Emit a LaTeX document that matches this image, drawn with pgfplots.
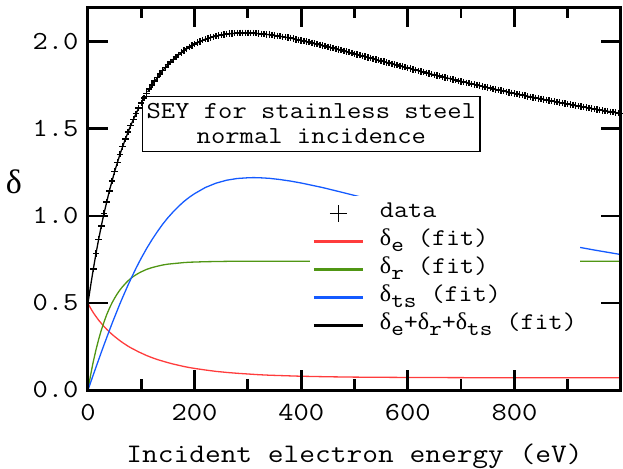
\documentclass[border=0pt]{standalone}
\usepackage{fontspec}
\setmainfont{Latin Modern Mono}[FakeStretch=1.14]
\newfontfamily\dfont{Liberation Serif}
\usepackage{pgfplots}
\pgfplotsset{compat=1.18}
\usepackage{pgfplotstable}
\definecolor{cred}{RGB}{255,60,60}
\definecolor{cgreen}{RGB}{80,150,20}
\definecolor{cblue}{RGB}{20,90,255}
\newcommand{\dd}{{\dfont δ}}
\newcommand{\sub}[1]{\raisebox{-3pt}{\fontsize{10.5}{12}\selectfont #1}}

\pgfplotstableread{
E S
10 0.695
15 0.784
20 0.866
25 0.943
30 1.014
35 1.081
40 1.143
45 1.201
50 1.255
55 1.306
60 1.354
65 1.399
70 1.441
75 1.481
80 1.518
85 1.554
90 1.587
95 1.619
100 1.649
105 1.677
110 1.703
115 1.729
120 1.752
125 1.775
130 1.796
135 1.816
140 1.835
145 1.853
150 1.869
155 1.885
160 1.900
165 1.913
170 1.926
175 1.938
180 1.950
185 1.960
190 1.970
195 1.979
200 1.987
205 1.995
210 2.002
215 2.009
220 2.015
225 2.020
230 2.025
235 2.029
240 2.033
245 2.037
250 2.040
255 2.042
260 2.045
265 2.047
270 2.048
275 2.049
280 2.050
285 2.051
290 2.051
295 2.051
300 2.051
305 2.050
310 2.050
315 2.049
320 2.047
325 2.046
330 2.044
335 2.043
340 2.041
345 2.039
350 2.037
355 2.034
360 2.032
365 2.029
370 2.026
375 2.024
380 2.021
385 2.018
390 2.014
395 2.011
400 2.008
405 2.005
410 2.001
415 1.998
420 1.994
425 1.990
430 1.987
435 1.983
440 1.979
445 1.975
450 1.971
455 1.968
460 1.964
465 1.960
470 1.956
475 1.952
480 1.948
485 1.944
490 1.940
495 1.936
500 1.931
505 1.927
510 1.923
515 1.919
520 1.915
525 1.911
530 1.907
535 1.903
540 1.899
545 1.894
550 1.890
555 1.886
560 1.882
565 1.878
570 1.874
575 1.870
580 1.866
585 1.862
590 1.858
595 1.854
600 1.850
605 1.846
610 1.842
615 1.838
620 1.834
625 1.830
630 1.826
635 1.822
640 1.818
645 1.814
650 1.810
655 1.807
660 1.803
665 1.799
670 1.795
675 1.791
680 1.788
685 1.784
690 1.780
695 1.776
700 1.773
705 1.769
710 1.765
715 1.762
720 1.758
725 1.755
730 1.751
735 1.748
740 1.744
745 1.741
750 1.737
755 1.734
760 1.730
765 1.727
770 1.723
775 1.720
780 1.717
785 1.713
790 1.710
795 1.707
800 1.703
805 1.700
810 1.697
815 1.694
820 1.691
825 1.687
830 1.684
835 1.681
840 1.678
845 1.675
850 1.672
855 1.669
860 1.666
865 1.663
870 1.660
875 1.657
880 1.654
885 1.651
890 1.648
895 1.645
900 1.642
905 1.639
910 1.636
915 1.634
920 1.631
925 1.628
930 1.625
935 1.622
940 1.620
945 1.617
950 1.614
955 1.611
960 1.609
965 1.606
970 1.603
975 1.601
980 1.598
985 1.596
990 1.593
995 1.591
1000 1.588
}\datatable

\pgfplotstableread{
E D
0 0.500
1 0.4925
2.5 0.483
5 0.469
10 0.444
15 0.422
20 0.401
25 0.383
30 0.365
35 0.349
40 0.334
45 0.320
50 0.307
55 0.295
60 0.283
65 0.272
70 0.262
75 0.252
80 0.243
85 0.235
90 0.227
95 0.219
100 0.212
110 0.198
120 0.186
130 0.175
140 0.166
150 0.157
160 0.149
170 0.142
180 0.135
190 0.129
200 0.124
220 0.115
240 0.107
260 0.101
280 0.096
300 0.092
320 0.088
340 0.085
360 0.083
380 0.081
400 0.079
450 0.076
500 0.074
600 0.072
700 0.071
800 0.0703
1000 0.070
}\etable

\pgfplotstableread{
E D
0 0
2.5 0.045
5 0.087
7.5 0.1265
10 0.164
15 0.231
20 0.291
25 0.344
30 0.390
35 0.432
40 0.468
45 0.500
50 0.528
55 0.553
60 0.575
65 0.594
70 0.611
75 0.627
80 0.640
85 0.652
90 0.662
95 0.671
100 0.679
110 0.693
120 0.703
130 0.711
140 0.718
150 0.723
160 0.726
170 0.729
180 0.732
190 0.734
200 0.735
220 0.737
240 0.738
260 0.739
300 0.7396
350 0.7399
400 0.740
1000 0.740
}\rtable

\pgfplotstableread{
E D
0 0
5 0.044
10 0.088
15 0.131
20 0.174
25 0.217
30 0.259
35 0.300
40 0.341
45 0.381
50 0.420
55 0.458
60 0.496
65 0.532
70 0.567
75 0.602
80 0.635
85 0.667
90 0.699
95 0.729
100 0.758
110 0.813
120 0.863
130 0.909
140 0.952
150 0.990
160 1.024
170 1.055
180 1.083
190 1.107
200 1.128
220 1.163
240 1.188
260 1.205
280 1.215
300 1.219
310 1.220
320 1.2195
340 1.216
360 1.209
380 1.200
400 1.189
440 1.163
480 1.133
520 1.102
560 1.070
600 1.038
650 0.999
700 0.962
750 0.927
800 0.893
850 0.862
900 0.832
950 0.804
1000 0.778
}\tstable

\pgfplotstableread{
E D
0 0.500
2.5 0.550
5 0.600
10 0.695
15 0.784
20 0.866
25 0.943
30 1.014
40 1.143
50 1.255
60 1.354
70 1.441
80 1.518
90 1.587
100 1.649
120 1.752
140 1.835
160 1.900
180 1.950
200 1.987
220 2.015
240 2.033
260 2.045
280 2.050
300 2.051
320 2.047
340 2.041
360 2.032
380 2.021
400 2.008
450 1.971
500 1.931
550 1.890
600 1.850
650 1.810
700 1.773
750 1.737
800 1.703
850 1.672
900 1.642
950 1.614
1000 1.588
}\sumtable

\begin{document}
\begin{tikzpicture}
\path[use as bounding box] (-44pt,-39pt) rectangle (267.5pt,195pt);
\begin{axis}[
  at={(0,0)}, anchor=south west,
  scale only axis,
  width=266.5pt, height=191.5pt,
  xmin=0, xmax=1000, ymin=0, ymax=2.2,
  axis on top,
  xtick={0,200,400,600,800},
  xticklabels={0,200,400,600,800},
  minor xtick={100,300,500,700,900},
  ytick={0,0.5,1,1.5,2},
  yticklabels={0.0,0.5,1.0,1.5,2.0},
  /pgf/number format/assume math mode=true,
  tick align=inside,
  major tick length=10pt,
  minor tick length=5.5pt,
  every tick/.style={black, line width=1.4pt},
  axis line style={line width=1.5pt},
  ticklabel style={font=\fontsize{13}{15}\selectfont},
  xticklabel style={yshift=-3.5pt},
  yticklabel style={xshift=-1.3pt},
  xlabel={Incident electron energy (eV)},
  xlabel style={at={(rel axis cs:0.5,0)}, anchor=center, yshift=-33pt, font=\fontsize{13.4}{15}\selectfont},
  ylabel={\dd},
  ylabel style={at={(rel axis cs:0,0.543)}, anchor=center, rotate=-90, xshift=-37pt, font=\fontsize{17}{19}\selectfont},
  legend style={at={(axis cs:415,1.114)}, anchor=north west, draw=none, fill=white,
    inner xsep=1.5pt, inner ysep=1.5pt,
    font=\fontsize{12}{14}\selectfont,
    nodes={inner xsep=0pt, inner ysep=0pt, text height=9pt, text depth=5pt},
    /tikz/every odd column/.append style={column sep=8pt}},
  legend cell align=left,
]
\addplot[only marks, mark=+, mark size=1.6pt, mark options={line width=0.7pt, black},
  legend image code/.code={\draw[black, line width=0.6pt] (12.25pt,-4.25pt) -- (12.25pt,4.25pt) (8pt,0pt) -- (16.5pt,0pt);}]
  table[x=E, y=S] {\datatable};
\addlegendentry{data}
\addplot[cred, line width=0.65pt,
  legend image code/.code={\draw[cred, line width=1.2pt] (0pt,0pt) -- (24.5pt,0pt);}]
  table[x=E, y=D] {\etable};
\addlegendentry{\dd\sub{e} (fit)}
\addplot[cgreen, line width=0.65pt,
  legend image code/.code={\draw[cgreen, line width=1.2pt] (0pt,0pt) -- (24.5pt,0pt);}]
  table[x=E, y=D] {\rtable};
\addlegendentry{\dd\sub{r} (fit)}
\addplot[cblue, line width=0.65pt,
  legend image code/.code={\draw[cblue, line width=1.2pt] (0pt,0pt) -- (24.5pt,0pt);}]
  table[x=E, y=D] {\tstable};
\addlegendentry{\dd\sub{ts} (fit)}
\addplot[black, line width=0.65pt,
  legend image code/.code={\draw[black, line width=1.2pt] (0pt,0pt) -- (24.5pt,0pt);}]
  table[x=E, y=D] {\sumtable};
\addlegendentry{\dd\sub{e}+\dd\sub{r}+\dd\sub{ts} (fit)}
\node[draw=black, line width=0.6pt, fill=white, preaction={draw=white, line width=4pt},
  align=center, font=\fontsize{12.2}{12.5}\selectfont,
  minimum width=168.7pt, minimum height=27.7pt, inner xsep=2pt, inner ysep=1pt]
  at (axis cs:419,1.529) {SEY for stainless steel\\normal incidence};
\end{axis}
\end{tikzpicture}
\end{document}
